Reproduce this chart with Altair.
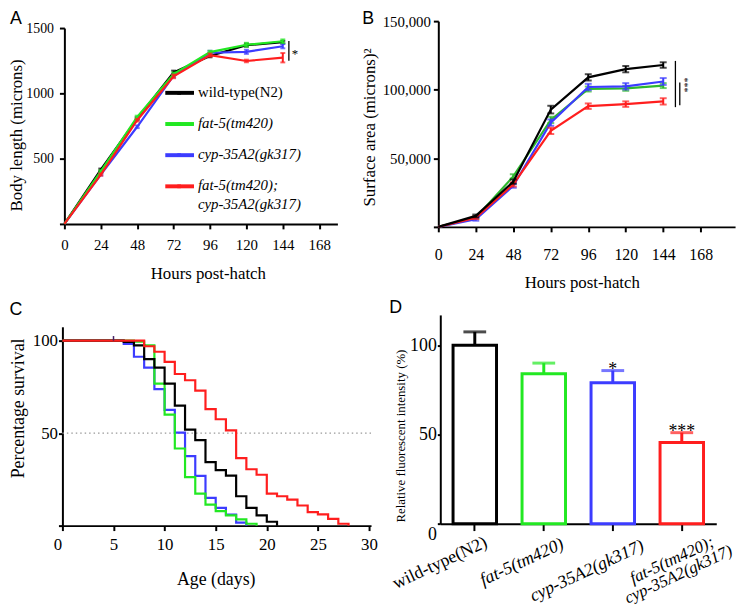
import altair as alt
import pandas as pd

# ------------------------------------------------------------------ data
GENOTYPES = ["wild-type(N2)", "fat-5(tm420)", "cyp-35A2(gk317)",
             "fat-5(tm420); cyp-35A2(gk317)"]

HOURS = [0, 24, 48, 72, 96, 120, 144]

LENGTH_WT = [0, 416, 807, 1160, 1286, 1369, 1392]
LENGTH_FAT5 = [0, 403, 819, 1147, 1316, 1372, 1399]
LENGTH_CYP = [0, 378, 744, 1135, 1311, 1318, 1361]
LENGTH_DBL = [0, 378, 794, 1130, 1293, 1248, 1273]
LENGTH_ERR_WT = [0, 8, 10, 14, 10, 12, 10]
LENGTH_ERR_FAT5 = [0, 8, 10, 12, 10, 15, 14]
LENGTH_ERR_CYP = [0, 8, 10, 12, 15, 16, 16]
LENGTH_ERR_DBL = [0, 8, 10, 14, 12, 10, 36]

AREA_WT = [0, 8000, 33000, 85500, 109000, 115000, 118000]
AREA_FAT5 = [0, 6700, 36800, 78000, 100500, 101000, 103000]
AREA_CYP = [0, 5500, 30000, 76000, 102000, 102500, 106000]
AREA_DBL = [0, 6700, 31000, 70000, 88000, 89500, 91500]
AREA_ERR_WT = [0, 1000, 1500, 2800, 2300, 2300, 2000]
AREA_ERR_FAT5 = [0, 1000, 1500, 2300, 1800, 1800, 1800]
AREA_ERR_CYP = [0, 1000, 1500, 2300, 2300, 2300, 2500]
AREA_ERR_DBL = [0, 1000, 1500, 2300, 2000, 2000, 2300]

DAYS_WT = [0, 6, 7, 8, 9, 10, 11, 12, 13, 14, 15, 16, 17, 18, 19, 20, 21]
SURV_WT = [100, 99.3, 97.5, 90, 85.4, 76.8, 64.9, 51.9, 46.2, 34.3, 30, 27, 15.9, 9.6, 5.5, 2.1, 0]
DAYS_FAT5 = [0, 7, 8, 9, 10, 11, 12, 13, 14, 15, 16, 17, 18, 19]
SURV_FAT5 = [100, 99.5, 97.5, 76.8, 60, 41.7, 26.2, 17.3, 11.4, 7.8, 5.5, 3.4, 1, 0]
DAYS_CYP = [0, 6, 7, 8, 9, 10, 11, 12, 13, 14, 15, 16, 17, 18]
SURV_CYP = [100, 98.2, 91.3, 85.4, 73.8, 62.6, 50.3, 37.6, 26.9, 15, 9.6, 6, 1.6, 0]
DAYS_DBL = [0, 8, 9, 10, 11, 12, 13, 14, 15, 16, 17, 18, 19, 20, 21, 22, 23, 24, 25, 26, 27, 28]
SURV_DBL = [100, 97, 94, 88.5, 82, 78.6, 73, 63, 57.5, 51.5, 36.5, 30.5, 27.5, 17.3, 15.9,
            14.1, 10.9, 7.3, 6.1, 3.7, 1, 0]

FLUOR = [100, 84, 79, 45.5]
FLUOR_ERR = [7.5, 6, 6.8, 5.5]
FLUOR_SIG = ["", "", "*", "***"]

COLORS = ["#000000", "#22e822", "#3c3cff", "#ff1e1e"]
COLORS_B = ["#000000", "#2eb82e", "#3c3cff", "#ff1e1e"]

# ------------------------------------------------------------------ layout helpers
M = 8
W, H = 742, 601
SERIF = "Liberation Serif, Times New Roman, Times, serif"
SANS = "Liberation Sans, Arial, Helvetica, sans-serif"


def P(v):
    return v - M


def lin(domain, rng):
    return alt.Scale(domain=domain, range=[P(r) for r in rng], nice=False, zero=False)


SX_A = lin([0, 180], [65, 341])
SY_A = lin([0, 1500], [223, 25])
SX_B = lin([0, 190], [443, 743])
SY_B = lin([0, 150000], [226, 18])
SX_C = lin([0, 30.2], [63, 375])
SY_C = lin([0, 107.5], [528, 327])
SX_D = alt.Scale(domain=GENOTYPES, range=[P(445), P(724)], paddingInner=0.37, paddingOuter=0.185)
SY_D = lin([0, 117], [526, 315])


def xaxis(y_page, values, title, title_x, title_dy, lsize, tsize, lpad, fmt="d", **kw):
    return alt.Axis(orient="bottom", offset=P(y_page) - H, values=values, title=title,
                    format=fmt, labelFontSize=lsize, titleFontSize=tsize, labelPadding=lpad,
                    titleX=P(title_x), titleY=title_dy, titleBaseline="middle",
                    titleAlign="center", tickSize=5, tickWidth=2, domainWidth=2, **kw)


def yaxis(x_page, values, title, title_x, title_y, lsize, tsize, lpad, tsz=5, fmt="d", **kw):
    return alt.Axis(orient="left", offset=-P(x_page), values=values, title=title,
                    format=fmt, labelFontSize=lsize, titleFontSize=tsize, labelPadding=lpad,
                    titleX=title_x - x_page, titleY=P(title_y), titleAngle=270,
                    titleBaseline="middle", titleAlign="center", tickSize=tsz, tickWidth=2,
                    domainWidth=2, **kw)


def long_frame(xs, ys_list, errs_list):
    rows = []
    for g, ys, es in zip(GENOTYPES, ys_list, errs_list):
        for x, y, e in zip(xs, ys, es):
            rows.append(dict(genotype=g, x=x, y=y, lo=y - e, hi=y + e))
    return pd.DataFrame(rows)


def growth_layers(df, sx, sy, colors, order, lw, cap, xax, yax):
    out = []
    first = True
    for i in order:
        d = df[df.genotype == GENOTYPES[i]]
        out.append(alt.Chart(d).mark_line(color=colors[i], strokeWidth=lw).encode(
            x=alt.X("x:Q", scale=sx, axis=xax if first else None),
            y=alt.Y("y:Q", scale=sy, axis=yax if first else None)))
        first = False
        de = d[d.hi > d.lo]
        out.append(alt.Chart(de).mark_rule(color=colors[i], strokeWidth=2).encode(
            x=alt.X("x:Q", scale=sx, axis=None),
            y=alt.Y("lo:Q", scale=sy, axis=None), y2="hi:Q"))
        for f in ("lo", "hi"):
            out.append(alt.Chart(de).mark_tick(color=colors[i], orient="horizontal",
                                               size=cap, thickness=2).encode(
                x=alt.X("x:Q", scale=sx, axis=None),
                y=alt.Y(f + ":Q", scale=sy, axis=None)))
    return out


layers = []
one = pd.DataFrame({"a": [0]})

# ------------------------------------------------------------------ panel A
dfA = long_frame(HOURS, [LENGTH_WT, LENGTH_FAT5, LENGTH_CYP, LENGTH_DBL],
                 [LENGTH_ERR_WT, LENGTH_ERR_FAT5, LENGTH_ERR_CYP, LENGTH_ERR_DBL])
axA_x = xaxis(223, [0, 24, 48, 72, 96, 120, 144, 168], "Hours post-hatch", 210, 50, 15, 17, 9)
axA_y = yaxis(65, [0, 500, 1000, 1500], "Body length (microns)", 17, 133, 14, 17, 6,
              labelExpr="datum.value == 0 ? '' : datum.label")
layers += growth_layers(dfA, SX_A, SY_A, COLORS, [0, 2, 1, 3], 2.2, 5, axA_x, axA_y)

layers.append(alt.Chart(one).mark_rule(color="black", strokeWidth=1.3).encode(
    x=alt.XDatum(148, type="quantitative", scale=SX_A, axis=None),
    y=alt.YDatum(1250, type="quantitative", scale=SY_A, axis=None),
    y2=alt.Y2Datum(1400)))
layers.append(alt.Chart(one).mark_text(
    text="*", font=SERIF, fontSize=13, align="center", baseline="middle").encode(
    x=alt.XDatum(152, type="quantitative", scale=SX_A, axis=None),
    y=alt.YDatum(1300, type="quantitative", scale=SY_A, axis=None)))

legA = pd.DataFrame({"genotype": GENOTYPES, "row": [0, 1, 2, 3]})
LEG_Y = alt.Scale(domain=[0, 3], range=[P(90.5), P(185)], nice=False, zero=False)
leg_color = alt.Color("genotype:N", scale=alt.Scale(domain=GENOTYPES, range=COLORS), legend=None)
layers.append(alt.Chart(legA).mark_rule(strokeWidth=4).encode(
    x=alt.value(P(167)), x2=alt.value(P(196)),
    y=alt.Y("row:Q", scale=LEG_Y, axis=None), color=leg_color))
layers.append(alt.Chart(legA).mark_point(filled=True, size=14, opacity=1, shape="square").encode(
    x=alt.value(P(181)), y=alt.Y("row:Q", scale=LEG_Y, axis=None), color=leg_color))
legT = pd.DataFrame({"line": ["wild-type(N2)", "fat-5(tm420)", "cyp-35A2(gk317)",
                              "fat-5(tm420);", "cyp-35A2(gk317)"],
                     "row": [0, 1, 2, 3, 3.6]})
layers.append(alt.Chart(legT.iloc[:1]).mark_text(
    font=SERIF, fontSize=15, align="left", baseline="middle", dy=-1).encode(
    x=alt.value(P(200)), y=alt.Y("row:Q", scale=LEG_Y, axis=None), text="line:N"))
layers.append(alt.Chart(legT.iloc[1:]).mark_text(
    font=SERIF, fontSize=15, fontStyle="italic", align="left", baseline="middle", dy=-1).encode(
    x=alt.value(P(200)), y=alt.Y("row:Q", scale=LEG_Y, axis=None), text="line:N"))

# ------------------------------------------------------------------ panel B
dfB = long_frame(HOURS, [AREA_WT, AREA_FAT5, AREA_CYP, AREA_DBL],
                 [AREA_ERR_WT, AREA_ERR_FAT5, AREA_ERR_CYP, AREA_ERR_DBL])
axB_x = xaxis(226, [0, 24, 48, 72, 96, 120, 144, 168], "Hours post-hatch", 588, 56, 16, 17, 15)
axB_y = yaxis(443, [0, 50000, 100000, 150000], "Surface area (microns)\u00b2", 374, 125, 15, 17, 3,
              fmt=",d", labelExpr="datum.value == 0 ? '' : datum.label")
layers += growth_layers(dfB, SX_B, SY_B, COLORS_B, [1, 2, 3, 0], 2.2, 7, axB_x, axB_y)

layers.append(alt.Chart(one).mark_rule(color="black", strokeWidth=1.3).encode(
    x=alt.XDatum(151.8, type="quantitative", scale=SX_B, axis=None),
    y=alt.YDatum(87300, type="quantitative", scale=SY_B, axis=None),
    y2=alt.Y2Datum(121000)))
layers.append(alt.Chart(one).mark_rule(color="black", strokeWidth=1.3).encode(
    x=alt.XDatum(154.6, type="quantitative", scale=SX_B, axis=None),
    y=alt.YDatum(88700, type="quantitative", scale=SY_B, axis=None),
    y2=alt.Y2Datum(105300)))
layers.append(alt.Chart(one).mark_text(
    text="***", font=SERIF, fontSize=10, angle=90, align="center", baseline="middle").encode(
    x=alt.XDatum(157.5, type="quantitative", scale=SX_B, axis=None),
    y=alt.YDatum(103500, type="quantitative", scale=SY_B, axis=None)))

# ------------------------------------------------------------------ panel C
rowsC = []
for g, ds, ss in zip(GENOTYPES, [DAYS_WT, DAYS_FAT5, DAYS_CYP, DAYS_DBL],
                     [SURV_WT, SURV_FAT5, SURV_CYP, SURV_DBL]):
    for d, s in zip(ds, ss):
        rowsC.append(dict(genotype=g, day=d, surv=s))
dfC = pd.DataFrame(rowsC)
axC_x = xaxis(528, [0, 5, 10, 15, 20, 25, 30], "Age (days)", 218, 55, 17, 18, 6,
              labelOffset={"condition": {"test": "datum.value === 0", "value": -5}, "value": 0})
axC_y = yaxis(63, [0, 50, 100], "Percentage survival", 19, 409, 17, 18, 1, tsz=4,
              labelExpr="datum.value == 0 ? '' : datum.label")

layers.append(alt.Chart(one).mark_rule(color="#999999", strokeWidth=1.3, strokeDash=[1.5, 3]).encode(
    x=alt.XDatum(0, type="quantitative", scale=SX_C, axis=axC_x),
    x2=alt.X2Datum(30.2),
    y=alt.YDatum(50, type="quantitative", scale=SY_C, axis=axC_y)))
for i in [2, 1, 0, 3]:
    d = dfC[dfC.genotype == GENOTYPES[i]]
    layers.append(alt.Chart(d).mark_line(color=COLORS[i], strokeWidth=2.2,
                                         interpolate="step-after").encode(
        x=alt.X("day:Q", scale=SX_C, axis=None),
        y=alt.Y("surv:Q", scale=SY_C, axis=None)))
layers.append(alt.Chart(one).mark_rule(color="#442266", strokeWidth=1.5).encode(
    x=alt.XDatum(5, type="quantitative", scale=SX_C, axis=None),
    y=alt.YDatum(100, type="quantitative", scale=SY_C, axis=None),
    y2=alt.Y2Datum(102.5)))

# ------------------------------------------------------------------ panel D
dfD = pd.DataFrame({"genotype": GENOTYPES, "value": FLUOR, "err": FLUOR_ERR, "sig": FLUOR_SIG})
dfD["top"] = dfD["value"] + dfD["err"]
dfD["label"] = [g.replace("; ", ";\n") for g in GENOTYPES]
colD = alt.Color("genotype:N", scale=alt.Scale(domain=GENOTYPES, range=COLORS), legend=None)
axD_x = alt.Axis(orient="bottom", offset=P(526) - H, labels=False, title=None, tickSize=7,
                 tickWidth=2, domainWidth=2)
axD_y = yaxis(445, [0, 50, 100], "Relative fluorescent intensity (%)", 405, 437, 18, 13, 1, tsz=3,
              labelOffset={"condition": {"test": "datum.value === 0", "value": 11}, "value": 0})

layers.append(alt.Chart(dfD).mark_rule(strokeWidth=3).encode(
    x=alt.X("genotype:N", scale=SX_D, axis=axD_x, sort=GENOTYPES),
    y=alt.Y("value:Q", scale=SY_D, axis=axD_y), y2="top:Q", color=colD))
layers.append(alt.Chart(dfD).mark_tick(orient="horizontal", size=23, thickness=3).encode(
    x=alt.X("genotype:N", scale=SX_D, axis=None, sort=GENOTYPES),
    y=alt.Y("top:Q", scale=SY_D, axis=None), color=colD))
layers.append(alt.Chart(dfD).mark_bar(fill="white", strokeWidth=3).encode(
    x=alt.X("genotype:N", scale=SX_D, axis=None, sort=GENOTYPES),
    y=alt.Y("value:Q", scale=SY_D, axis=None), y2=alt.Y2Datum(0),
    stroke=alt.Stroke("genotype:N", scale=alt.Scale(domain=GENOTYPES, range=COLORS), legend=None)))
layers.append(alt.Chart(dfD).mark_text(font=SERIF, fontSize=18, align="center",
                                       baseline="middle", dy=-1).encode(
    x=alt.X("genotype:N", scale=SX_D, axis=None, sort=GENOTYPES),
    y=alt.Y("top:Q", scale=SY_D, axis=None), text="sig:N"))

LABEL_SHIFT_D = [(-35, 40), (-22, 39), (-26, 48), (-10, 37)]
LABEL_SIZE_D = [18, 18, 18, 17]
for i in range(4):
    ox, oy = LABEL_SHIFT_D[i]
    dx = 0.9063 * ox - 0.4226 * oy
    dy = 0.4226 * ox + 0.9063 * oy
    layers.append(alt.Chart(dfD.iloc[[i]]).mark_text(
        font=SERIF, fontSize=LABEL_SIZE_D[i], fontStyle="normal" if i == 0 else "italic",
        angle=335, align="center", baseline="middle", dx=dx, dy=dy,
        lineBreak="\n", lineHeight=16).encode(
        x=alt.X("genotype:N", scale=SX_D, axis=None, sort=GENOTYPES),
        y=alt.YDatum(0, type="quantitative", scale=SY_D, axis=None),
        text="label:N"))

# ------------------------------------------------------------------ panel letters
for letter, (lx, ly) in zip("ABCD", [(16, 16), (372, 16), (16, 310), (400, 308)]):
    layers.append(alt.Chart(one).mark_text(text=letter, font=SANS, fontSize=18,
                                           align="center", baseline="middle").encode(
        x=alt.value(P(lx)), y=alt.value(P(ly))))

chart = alt.layer(*layers).resolve_scale(
    x="independent", y="independent"
).properties(
    width=W, height=H, autosize=alt.AutoSizeParams(type="none"), padding=0
).configure_view(stroke=None).configure_axis(
    grid=False, labelFont=SERIF, titleFont=SERIF, labelColor="black", titleColor="black",
    domainColor="black", tickColor="black", titleFontWeight="normal", labelFlush=False,
    labelOverlap=False
)

chart.save("out.html", embed_options={"renderer": "svg", "actions": False})
